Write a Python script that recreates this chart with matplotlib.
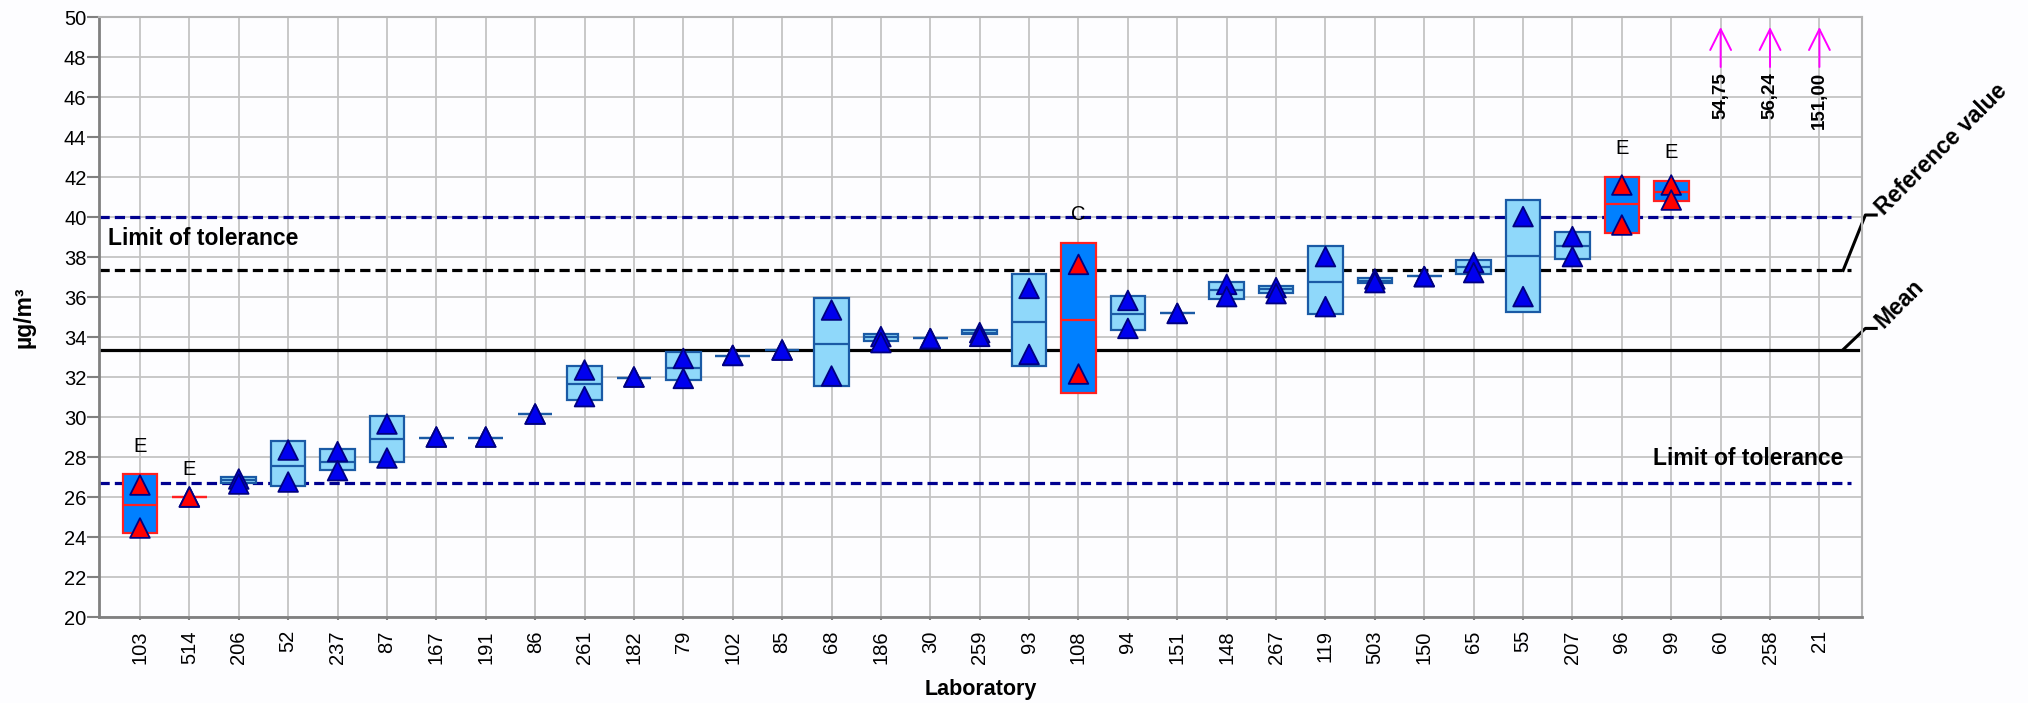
import matplotlib
matplotlib.use('Agg')
import matplotlib.pyplot as plt
import numpy as np

plt.rcParams['font.family'] = ['Liberation Sans', 'DejaVu Sans']

labs = ['103', '514', '206', '52', '237', '87', '167', '191', '86', '261', '182', '79',
        '102', '85', '68', '186', '30', '259', '93', '108', '94', '151', '148', '267',
        '119', '503', '150', '65', '55', '207', '96', '99', '60', '258', '21']

box_lo = [24.18, 25.98, 26.72, 26.55, 27.35, 27.77, 28.97, 28.97, 30.17, 30.85, 31.97, 31.85,
          33.05, 33.35, 31.55, 33.82, 33.93, 34.13, 32.55, 31.18, 34.35, 35.18, 35.92, 36.22,
          35.13, 36.68, 37.05, 37.13, 35.25, 37.92, 39.22, 40.82]
box_hi = [27.15, 25.98, 26.98, 28.78, 28.38, 30.05, 28.97, 28.97, 30.17, 32.57, 31.97, 33.25,
          33.05, 33.35, 35.93, 34.15, 33.93, 34.35, 37.13, 38.72, 36.05, 35.18, 36.75, 36.55,
          38.55, 36.97, 37.05, 37.85, 40.85, 39.23, 42.02, 41.82]
median = [25.6, 25.98, 26.85, 27.57, 27.77, 28.88, 28.97, 28.97, 30.17, 31.67, 31.97, 32.45,
          33.05, 33.35, 33.67, 33.98, 33.93, 34.22, 34.73, 34.85, 35.13, 35.18, 36.35, 36.38,
          36.73, 36.82, 37.05, 37.52, 38.05, 38.55, 40.63, 41.27]
val_a = [26.6, 26.0, 26.9, 28.35, 28.27, 29.65, 29.0, 29.0, 30.15, 32.35, 32.0, 32.93,
         33.08, 33.35, 35.35, 34.02, 33.92, 34.22, 36.43, 37.63, 35.83, 35.18, 36.63, 36.47,
         38.02, 36.9, 37.02, 37.72, 40.02, 39.02, 41.6, 41.6]
val_b = [24.45, 26.0, 26.65, 26.75, 27.32, 27.95, 29.0, 29.0, 30.15, 31.02, 32.0, 31.93,
         33.08, 33.35, 32.05, 33.72, 33.92, 34.03, 33.13, 32.15, 34.43, 35.18, 36.02, 36.17,
         35.52, 36.72, 37.02, 37.22, 36.02, 38.02, 39.6, 40.85]
flags = {0: 'E', 1: 'E', 19: 'C', 30: 'E', 31: 'E'}
outliers = ['54,75', '56,24', '151,00']   # labs 60, 258, 21

upper_limit = 40.0
lower_limit = 26.68
ref_value = 37.33
mean_value = 33.37

n = len(box_lo)
x = np.arange(len(labs))
xb = x[:n]
bad = [i in flags for i in range(n)]

fill = ['#0080ff' if b else '#8fd8fa' for b in bad]
edge = ['#ff2020' if b else '#1a5aa5' for b in bad]
tri = ['#ff0000' if b else '#0000ee' for b in bad]

fig = plt.figure(figsize=(20.28, 7.03), dpi=100, facecolor='#fdfdff')
ax = fig.add_axes([0.0488, 0.1223, 0.8693, 0.8535], facecolor='#fdfdff')

# reference lines
ax.axhline(upper_limit, xmin=0, xmax=0.994, color='#00008f', lw=2.3, ls=(0, (3.2, 1.6)), zorder=2)
ax.axhline(lower_limit, xmin=0, xmax=0.994, color='#00008f', lw=2.3, ls=(0, (3.2, 1.6)), zorder=2)
ax.axhline(ref_value, xmin=0, xmax=0.994, color='black', lw=2.3, ls=(0, (3.2, 1.6)), zorder=2)
ax.axhline(mean_value, xmin=0, xmax=0.998, color='black', lw=2.3, zorder=2)

# boxes
heights = [h - l for h, l in zip(box_hi, box_lo)]
ax.bar(xb, heights, bottom=box_lo, width=0.7, color=fill, edgecolor=edge, linewidth=1.6, zorder=3)
ax.hlines(median, xb - 0.35, xb + 0.35, colors=edge, lw=1.6, zorder=3)

# single values
ax.scatter(xb, val_a, marker='^', s=200, c=tri, edgecolors='#000080', linewidths=1.3, zorder=4)
ax.scatter(xb, val_b, marker='^', s=200, c=tri, edgecolors='#000080', linewidths=1.3, zorder=4)

for i, f in flags.items():
    ax.text(i, box_hi[i] + 1.4, f, ha='center', va='center', fontsize=14.5, zorder=5)

# out of range values
for k, lab in enumerate(outliers):
    xi = n + k
    ax.annotate('', xy=(xi, 49.5), xytext=(xi, 47.5),
                arrowprops=dict(arrowstyle='->,head_length=1.5,head_width=0.75', color='#ff00ff',
                                lw=1.4, mutation_scale=10, shrinkA=0, shrinkB=0))
    ax.text(xi, 47.25, lab, rotation=90, ha='center', va='top', fontsize=13.5, fontweight='bold')

ax.text(-0.65, 38.95, 'Limit of tolerance', fontsize=16.5, fontweight='bold', va='center', zorder=5)
ax.text(34.48, 27.95, 'Limit of tolerance', fontsize=16.5, fontweight='bold', va='center', ha='right', zorder=5)

# leader lines to the side labels
ax.plot([34.48, 34.93, 35.15], [ref_value, 40.1, 40.1], color='black', lw=2.2, clip_on=False)
ax.plot([34.48, 34.93, 35.15], [mean_value, 34.43, 34.43], color='black', lw=2.2, clip_on=False)
ax.text(35.3, 40.05, 'Reference value', rotation=45, rotation_mode='anchor', ha='left', va='baseline',
        fontsize=16.5, fontweight='bold', clip_on=False)
ax.text(35.3, 34.4, 'Mean', rotation=45, rotation_mode='anchor', ha='left', va='baseline',
        fontsize=16.5, fontweight='bold', clip_on=False)

ax.set_xlim(-0.83, 34.86)
ax.set_ylim(20, 50)
ax.set_yticks(np.arange(20, 51, 2))
ax.set_xticks(x)
ax.set_xticklabels(labs, rotation=90)
ax.tick_params(axis='both', labelsize=14.5, color='#808080', width=1.5)
ax.tick_params(axis='y', length=8.5, pad=0.5)
ax.tick_params(axis='x', length=2.5, pad=7)
ax.grid(True, color='#c4c4c4', lw=1.3, zorder=0)
ax.set_axisbelow(True)
for s in ['left', 'bottom']:
    ax.spines[s].set_color('#808080')
    ax.spines[s].set_linewidth(2)
for s in ['top', 'right']:
    ax.spines[s].set_color('#b4b4b4')
    ax.spines[s].set_linewidth(1.5)

fig.text(0.4835, 0.0114, 'Laboratory', fontsize=15.5, fontweight='bold', ha='center', va='baseline')
fig.text(0.012, 0.549, 'µg/m³', rotation=90, fontsize=16.5, fontweight='bold', ha='center', va='center')

fig.savefig('out.png', dpi=100, facecolor=fig.get_facecolor())
